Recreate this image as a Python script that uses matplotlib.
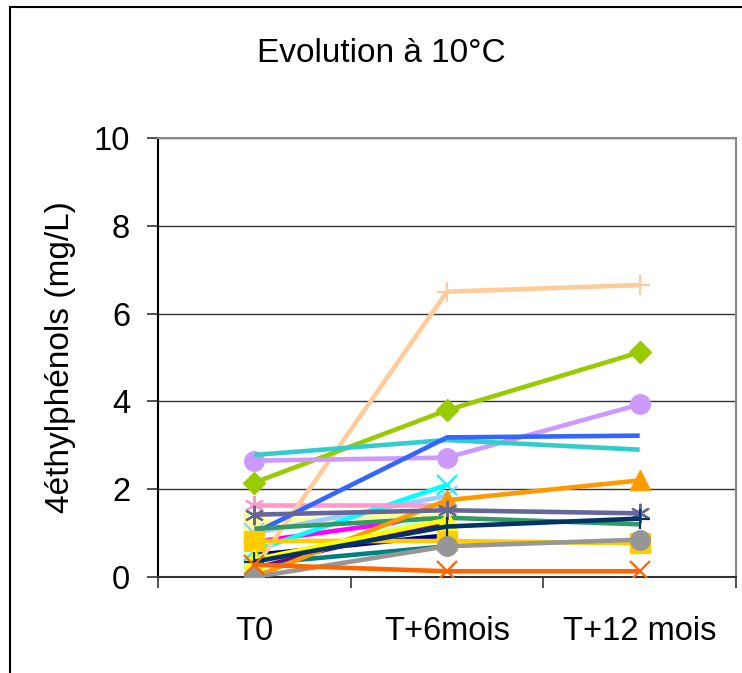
import numpy as np
import matplotlib
matplotlib.use("Agg")
import matplotlib.pyplot as plt
from matplotlib.lines import Line2D

plt.rcParams['font.family'] = ['Liberation Sans', 'DejaVu Sans']

categories = ["T0", "T+6mois", "T+12 mois"]
title = "Evolution à 10°C"
ylabel = "4éthylphénols (mg/L)"
nan = np.nan

# series values (T0, T+6mois, T+12 mois)
s_peach      = [0.20, 6.50, 6.65]
s_yellowgrn  = [2.15, 3.80, 5.12]
s_lavender   = [2.65, 2.72, 3.93]
s_blue       = [1.00, 3.18, 3.22]
s_turquoise  = [2.78, 3.12, 2.90]
s_orange     = [0.00, 1.75, 2.20]
s_slate      = [1.42, 1.52, 1.45]
s_seagreen   = [1.10, 1.35, 1.20]
s_darknavy   = [0.35, 1.15, 1.33]
s_gold       = [0.82, 0.82, 0.77]
s_gray       = [0.00, 0.70, 0.85]
s_orangered  = [0.28, 0.13, 0.13]
s_pink       = [1.65, 1.65, nan]
s_cyan       = [0.60, 2.10, nan]
s_paleblue   = [1.00, 1.85, nan]
s_lightyel   = [1.25, 1.45, nan]
s_lightgrn   = [0.30, 1.45, nan]
s_magenta    = [0.80, 1.40, nan]
s_purple     = [0.25, 1.25, nan]
s_navy       = [0.50, 0.95, nan]
s_yellow     = [0.40, 1.30, nan]
s_teal       = [0.30, 0.70, nan]

ASTER = (6, 2, 0)
series = [
    (s_navy, '#000080', None),
    (s_magenta, '#FF00FF', None),
    (s_teal, '#008080', None),
    (s_purple, '#800080', None),
    (s_lightgrn, '#CCFFCC', 's'),
    (s_lightyel, '#FFFF99', 's'),
    (s_paleblue, '#99CCFF', 'x'),
    (s_cyan, '#00FFFF', 'x'),
    (s_pink, '#FF99CC', ASTER),
    (s_peach, '#FFCC99', '+'),
    (s_yellowgrn, '#99CC00', 'D'),
    (s_lavender, '#CC99FF', 'o'),
    (s_turquoise, '#33CCCC', None),
    (s_blue, '#3366FF', None),
    (s_seagreen, '#339966', None),
    (s_orange, '#FF9900', '^'),
    (s_gold, '#FFCC00', 's'),
    (s_yellow, '#FFFF00', '^'),
    (s_slate, '#666699', ASTER),
    (s_darknavy, '#003366', '+'),
    (s_gray, '#969696', 'o'),
    (s_orangered, '#FF6600', 'x'),
]

fig = plt.figure(figsize=(7.42, 6.73), dpi=100)
ax = fig.add_axes([158/742, 1-577/673, (736-158)/742, (577-138)/673])

x = np.arange(len(categories))
for vals, col, mk in series:
    kw = dict(color=col, lw=3.3, zorder=3, solid_capstyle='butt')
    if mk is not None:
        kw['marker'] = mk
        if mk in ('x', '+', ASTER):
            kw.update(ms=14, mew=1.6, mec=col)
        elif mk == 'D':
            kw.update(ms=11, mec=col, mfc=col)
        elif mk == '^':
            kw.update(ms=15, mec=col, mfc=col)
        else:
            kw.update(ms=14, mec=col, mfc=col)
    ax.plot(x, vals, **kw)

ax.set_xlim(-0.5, 2.5)
ax.set_ylim(0, 10)
ax.set_yticks(np.arange(0, 11, 2))
ax.yaxis.grid(True, color='#333333', lw=1, zorder=0)
ax.set_axisbelow(True)
ax.set_xticks(x)
ax.set_xticklabels(categories)
ax.set_xticks([-0.5, 0.5, 1.5, 2.5], minor=True)
ax.tick_params(axis='x', which='major', length=0, pad=28, labelsize=23.5)
ax.tick_params(axis='x', which='minor', length=8, width=1.2, color='#333333')
ax.tick_params(axis='y', length=8, width=1.2, pad=12, labelsize=23.5, color='#333333')

ax.spines['left'].set_color('black')
ax.spines['left'].set_linewidth(1.5)
ax.spines['bottom'].set_color('#333333')
ax.spines['bottom'].set_linewidth(1.5)
ax.spines['top'].set_color('#888888')
ax.spines['right'].set_color('#888888')
ax.spines['top'].set_linewidth(1.5)
ax.spines['right'].set_linewidth(1.5)

ax.set_ylabel(ylabel, fontsize=24, labelpad=13)
fig.text(381/742, 1-62/673, title, fontsize=24, ha='center', va='baseline')

# outer chart border
fig.add_artist(Line2D([10/742, 1.0], [1-7/673, 1-7/673], transform=fig.transFigure, color='black', lw=1.5))
fig.add_artist(Line2D([10/742, 10/742], [0.0, 1-7/673], transform=fig.transFigure, color='black', lw=1.5))

fig.savefig("out.png", dpi=100)
